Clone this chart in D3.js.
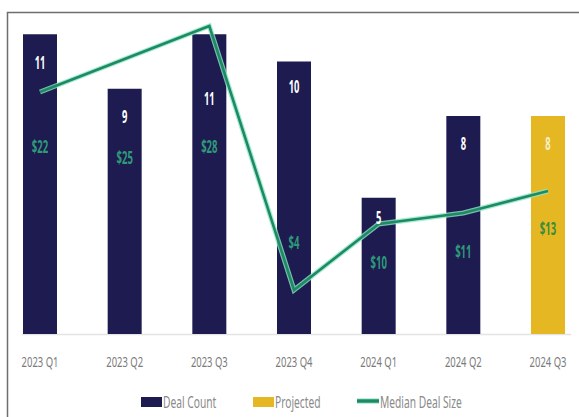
<!DOCTYPE html>
<html>
<head>
<meta charset="utf-8">
<script src="https://cdn.jsdelivr.net/npm/d3@7/dist/d3.min.js"></script>
<style>
  html, body { margin: 0; padding: 0; background: #fff; }
  svg { display: block; }
</style>
</head>
<body>
<svg id="chart" width="579" height="417"></svg>
<script>
// Quarterly deal activity
const quarters = ["2023 Q1", "2023 Q2", "2023 Q3", "2023 Q4", "2024 Q1", "2024 Q2", "2024 Q3"];
const dealCount = [11, 9, 11, 10, 5, 8, 8];
const projected = [false, false, false, false, false, false, true];
const medianDealSize = [22, 25, 28, 4, 10, 11, 13];
const legendLabels = ["Deal Count", "Projected", "Median Deal Size"];

// label placement (pixels from bar top / line point)
const countLabelDy = [28, 27, 64, 25, 19, 27, 27];
const sizeLabelDy = [54, 98, 120, -48, 38, 38, 37];

const NAVY = "#1d1b50";
const GOLD = "#e5b823";
const GREEN = "#1d8a63";
const GLOW = "#8ee6c6";

const svg = d3.select("#chart");

const x = d3.scalePoint().domain(quarters).range([40, 548]);
const barW = 34;
const y = d3.scaleLinear().domain([0, 12]).range([334, 7]);
const y2 = d3.scaleLinear().domain([0, 30]).range([334, 4]);

// condensed text helper
function label(g, tx, ty, str, opts) {
  return g.append("text")
    .attr("transform", `translate(${tx},${ty}) scale(${opts.sx},1)`)
    .attr("text-anchor", opts.anchor || "middle")
    .attr("dominant-baseline", "central")
    .attr("font-family", "'Noto Sans', 'DejaVu Sans', sans-serif")
    .attr("font-size", opts.size)
    .attr("font-weight", opts.weight || 400)
    .attr("fill", opts.fill)
    .text(str);
}

// frame
svg.append("path")
  .attr("d", "M7.5,417 V12.5 H579")
  .attr("fill", "none")
  .attr("stroke", "#6e6e6e")
  .attr("stroke-width", 1.5);

// baseline
svg.append("line")
  .attr("x1", 22).attr("x2", 571)
  .attr("y1", y(0) + 0.5).attr("y2", y(0) + 0.5)
  .attr("stroke", "#e4e4e4").attr("stroke-width", 1.5);

// bars
svg.append("g").selectAll("rect")
  .data(quarters)
  .join("rect")
  .attr("x", d => x(d) - barW / 2)
  .attr("width", barW)
  .attr("y", (d, i) => y(dealCount[i]))
  .attr("height", (d, i) => y(0) - y(dealCount[i]))
  .attr("fill", (d, i) => projected[i] ? GOLD : NAVY);

// median deal size line
const line = d3.line()
  .x((d, i) => x(quarters[i]))
  .y(d => y2(d));
svg.append("path")
  .datum(medianDealSize)
  .attr("d", line)
  .attr("fill", "none")
  .attr("stroke", GLOW)
  .attr("stroke-opacity", 0.8)
  .attr("stroke-width", 5)
  .attr("stroke-linejoin", "miter");
svg.append("path")
  .datum(medianDealSize)
  .attr("d", line)
  .attr("fill", "none")
  .attr("stroke", GREEN)
  .attr("stroke-width", 2.6)
  .attr("stroke-linejoin", "miter");

// value labels
const lab = svg.append("g");
quarters.forEach((q, i) => {
  label(lab, x(q), y(dealCount[i]) + countLabelDy[i], String(dealCount[i]),
    { sx: 0.55, size: 17, weight: 700, fill: projected[i] ? "#f6efc8" : "#ffffff" });
  label(lab, x(q), y2(medianDealSize[i]) + sizeLabelDy[i], "$" + medianDealSize[i],
    { sx: 0.56, size: 17, weight: 700, fill: projected[i] ? "#3a8c3c" : "#2e9a78" });
});

// category labels
const ax = svg.append("g");
quarters.forEach(q => {
  label(ax, x(q), 362, q, { sx: 0.63, size: 15, fill: "#7a7a7a" });
});

// legend
const lg = svg.append("g");
lg.append("rect").attr("x", 141).attr("y", 397).attr("width", 21).attr("height", 10).attr("fill", NAVY);
label(lg, 163, 402, legendLabels[0], { sx: 0.66, size: 15.5, fill: "#8a8a8a", anchor: "start" });
lg.append("rect").attr("x", 253).attr("y", 397).attr("width", 21).attr("height", 10).attr("fill", GOLD);
label(lg, 275, 402, legendLabels[1], { sx: 0.66, size: 15.5, fill: "#8a8a8a", anchor: "start" });
lg.append("line").attr("x1", 357).attr("x2", 379).attr("y1", 401).attr("y2", 401)
  .attr("stroke", GLOW).attr("stroke-width", 6).attr("stroke-opacity", 0.6);
lg.append("line").attr("x1", 357).attr("x2", 379).attr("y1", 401).attr("y2", 401)
  .attr("stroke", GREEN).attr("stroke-width", 3.5);
label(lg, 380, 402, legendLabels[2], { sx: 0.66, size: 15.5, fill: "#8a8a8a", anchor: "start" });
</script>
</body>
</html>
